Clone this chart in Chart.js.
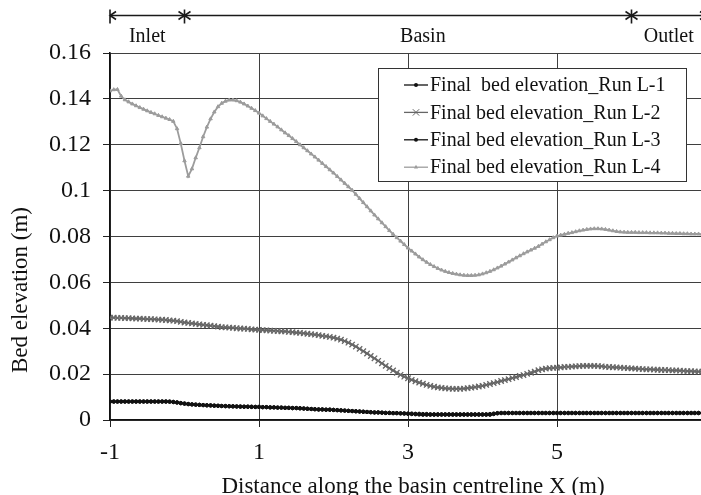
<!DOCTYPE html>
<html>
<head>
<meta charset="utf-8">
<title>Final bed elevation along the basin centreline</title>
<script src="https://cdn.jsdelivr.net/npm/chart.js@4/dist/chart.umd.min.js"></script>
<style>
  html, body { margin: 0; padding: 0; background: #fff; overflow: hidden; }
  #wrap { width: 701px; height: 495px; overflow: hidden; position: relative; }
  canvas { display: block; }
</style>
</head>
<body>
<div id="wrap"><canvas id="chart" width="723" height="495"></canvas></div>
<script>
// Stations along the basin centreline X (m)
const stations = [
  -1, -0.95, -0.9, -0.85, -0.8, -0.75, -0.7, -0.65, -0.6, -0.55, -0.5, -0.45, -0.4, -0.35, -0.3, -0.25, -0.2, -0.15, -0.1, -0.05,
  0, 0.05, 0.1, 0.15, 0.2, 0.25, 0.3, 0.35, 0.4, 0.45, 0.5, 0.55, 0.6, 0.65, 0.7, 0.75, 0.8, 0.85, 0.9, 0.95,
  1, 1.05, 1.1, 1.15, 1.2, 1.25, 1.3, 1.35, 1.4, 1.45, 1.5, 1.55, 1.6, 1.65, 1.7, 1.75, 1.8, 1.85, 1.9, 1.95,
  2, 2.05, 2.1, 2.15, 2.2, 2.25, 2.3, 2.35, 2.4, 2.45, 2.5, 2.55, 2.6, 2.65, 2.7, 2.75, 2.8, 2.85, 2.9, 2.95,
  3, 3.05, 3.1, 3.15, 3.2, 3.25, 3.3, 3.35, 3.4, 3.45, 3.5, 3.55, 3.6, 3.65, 3.7, 3.75, 3.8, 3.85, 3.9, 3.95,
  4, 4.05, 4.1, 4.15, 4.2, 4.25, 4.3, 4.35, 4.4, 4.45, 4.5, 4.55, 4.6, 4.65, 4.7, 4.75, 4.8, 4.85, 4.9, 4.95,
  5, 5.05, 5.1, 5.15, 5.2, 5.25, 5.3, 5.35, 5.4, 5.45, 5.5, 5.55, 5.6, 5.65, 5.7, 5.75, 5.8, 5.85, 5.9, 5.95,
  6, 6.05, 6.1, 6.15, 6.2, 6.25, 6.3, 6.35, 6.4, 6.45, 6.5, 6.55, 6.6, 6.65, 6.7, 6.75, 6.8, 6.85, 6.9, 6.95,
  7
];

// Final bed elevation (m), Run L-1
const runL1 = [
  0.0080, 0.0080, 0.0080, 0.0080, 0.0080, 0.0080, 0.0080, 0.0080, 0.0080, 0.0080, 0.0080, 0.0080, 0.0080, 0.0080, 0.0080, 0.0080, 0.0080, 0.0078, 0.0076, 0.0073,
  0.0071, 0.0069, 0.0068, 0.0067, 0.0066, 0.0065, 0.0064, 0.0063, 0.0062, 0.0062, 0.0061, 0.0060, 0.0060, 0.0059, 0.0059, 0.0058, 0.0058, 0.0058, 0.0057, 0.0057,
  0.0057, 0.0056, 0.0056, 0.0055, 0.0055, 0.0054, 0.0054, 0.0053, 0.0053, 0.0052, 0.0052, 0.0051, 0.0050, 0.0049, 0.0048, 0.0047, 0.0046, 0.0046, 0.0045, 0.0045,
  0.0044, 0.0043, 0.0042, 0.0041, 0.0040, 0.0039, 0.0038, 0.0037, 0.0036, 0.0035, 0.0034, 0.0033, 0.0033, 0.0032, 0.0031, 0.0031, 0.0030, 0.0030, 0.0029, 0.0028,
  0.0027, 0.0026, 0.0025, 0.0024, 0.0023, 0.0023, 0.0023, 0.0023, 0.0023, 0.0023, 0.0023, 0.0023, 0.0023, 0.0023, 0.0023, 0.0023, 0.0023, 0.0023, 0.0023, 0.0023,
  0.0023, 0.0023, 0.0023, 0.0026, 0.0029, 0.0030, 0.0030, 0.0030, 0.0030, 0.0030, 0.0030, 0.0030, 0.0030, 0.0030, 0.0030, 0.0030, 0.0030, 0.0030, 0.0030, 0.0030,
  0.0030, 0.0030, 0.0030, 0.0030, 0.0030, 0.0030, 0.0030, 0.0030, 0.0030, 0.0030, 0.0030, 0.0030, 0.0030, 0.0030, 0.0030, 0.0030, 0.0030, 0.0030, 0.0030, 0.0030,
  0.0030, 0.0030, 0.0030, 0.0030, 0.0030, 0.0030, 0.0030, 0.0030, 0.0030, 0.0030, 0.0030, 0.0030, 0.0030, 0.0030, 0.0030, 0.0030, 0.0030, 0.0030, 0.0030, 0.0030,
  0.0030
];

// Final bed elevation (m), Run L-2
const runL2 = [
  0.0446, 0.0446, 0.0445, 0.0445, 0.0444, 0.0444, 0.0443, 0.0442, 0.0442, 0.0441, 0.0440, 0.0440, 0.0439, 0.0438, 0.0437, 0.0436, 0.0434, 0.0433, 0.0431, 0.0428,
  0.0425, 0.0423, 0.0421, 0.0419, 0.0417, 0.0415, 0.0413, 0.0411, 0.0409, 0.0407, 0.0405, 0.0404, 0.0403, 0.0402, 0.0400, 0.0399, 0.0398, 0.0397, 0.0395, 0.0394,
  0.0393, 0.0392, 0.0391, 0.0390, 0.0389, 0.0388, 0.0387, 0.0386, 0.0384, 0.0383, 0.0381, 0.0380, 0.0378, 0.0376, 0.0374, 0.0372, 0.0370, 0.0367, 0.0365, 0.0362,
  0.0359, 0.0355, 0.0350, 0.0344, 0.0337, 0.0329, 0.0320, 0.0310, 0.0300, 0.0290, 0.0279, 0.0269, 0.0258, 0.0247, 0.0236, 0.0226, 0.0216, 0.0206, 0.0197, 0.0189,
  0.0182, 0.0175, 0.0169, 0.0163, 0.0158, 0.0153, 0.0149, 0.0145, 0.0142, 0.0140, 0.0138, 0.0137, 0.0136, 0.0136, 0.0136, 0.0137, 0.0139, 0.0141, 0.0143, 0.0146,
  0.0149, 0.0153, 0.0157, 0.0161, 0.0165, 0.0170, 0.0174, 0.0178, 0.0183, 0.0187, 0.0192, 0.0196, 0.0201, 0.0206, 0.0211, 0.0217, 0.0221, 0.0224, 0.0226, 0.0227,
  0.0228, 0.0229, 0.0231, 0.0232, 0.0233, 0.0234, 0.0235, 0.0236, 0.0236, 0.0236, 0.0236, 0.0235, 0.0234, 0.0232, 0.0231, 0.0230, 0.0229, 0.0228, 0.0227, 0.0226,
  0.0225, 0.0224, 0.0223, 0.0222, 0.0221, 0.0221, 0.0220, 0.0219, 0.0218, 0.0218, 0.0217, 0.0216, 0.0216, 0.0215, 0.0214, 0.0213, 0.0213, 0.0212, 0.0211, 0.0211,
  0.0210
];

// Final bed elevation (m), Run L-3
const runL3 = [
  0.0081, 0.0081, 0.0081, 0.0081, 0.0081, 0.0081, 0.0081, 0.0081, 0.0081, 0.0081, 0.0081, 0.0081, 0.0081, 0.0081, 0.0081, 0.0081, 0.0080, 0.0079, 0.0077, 0.0074,
  0.0072, 0.0070, 0.0068, 0.0067, 0.0066, 0.0065, 0.0064, 0.0064, 0.0063, 0.0062, 0.0061, 0.0061, 0.0060, 0.0060, 0.0059, 0.0059, 0.0058, 0.0058, 0.0058, 0.0057,
  0.0057, 0.0056, 0.0056, 0.0055, 0.0055, 0.0054, 0.0054, 0.0053, 0.0053, 0.0052, 0.0052, 0.0051, 0.0050, 0.0049, 0.0048, 0.0047, 0.0046, 0.0046, 0.0045, 0.0045,
  0.0044, 0.0043, 0.0042, 0.0041, 0.0040, 0.0039, 0.0038, 0.0037, 0.0036, 0.0035, 0.0034, 0.0033, 0.0033, 0.0032, 0.0031, 0.0031, 0.0030, 0.0030, 0.0029, 0.0029,
  0.0028, 0.0028, 0.0027, 0.0027, 0.0026, 0.0026, 0.0025, 0.0025, 0.0025, 0.0025, 0.0025, 0.0025, 0.0025, 0.0025, 0.0025, 0.0025, 0.0025, 0.0025, 0.0025, 0.0025,
  0.0025, 0.0025, 0.0026, 0.0028, 0.0030, 0.0031, 0.0031, 0.0031, 0.0031, 0.0031, 0.0031, 0.0031, 0.0031, 0.0031, 0.0031, 0.0031, 0.0031, 0.0031, 0.0031, 0.0031,
  0.0031, 0.0031, 0.0031, 0.0031, 0.0031, 0.0031, 0.0031, 0.0031, 0.0031, 0.0031, 0.0031, 0.0031, 0.0031, 0.0031, 0.0031, 0.0031, 0.0031, 0.0031, 0.0031, 0.0031,
  0.0031, 0.0031, 0.0031, 0.0031, 0.0031, 0.0031, 0.0031, 0.0031, 0.0031, 0.0031, 0.0031, 0.0031, 0.0031, 0.0031, 0.0031, 0.0031, 0.0031, 0.0031, 0.0031, 0.0031,
  0.0031
];

// Final bed elevation (m), Run L-4
const runL4 = [
  0.1435, 0.1440, 0.1441, 0.1412, 0.1396, 0.1387, 0.1378, 0.1370, 0.1362, 0.1355, 0.1348, 0.1341, 0.1335, 0.1328, 0.1322, 0.1316, 0.1310, 0.1302, 0.1270, 0.1205,
  0.1130, 0.1063, 0.1095, 0.1143, 0.1187, 0.1235, 0.1277, 0.1313, 0.1343, 0.1366, 0.1381, 0.1390, 0.1395, 0.1395, 0.1392, 0.1386, 0.1378, 0.1369, 0.1359, 0.1349,
  0.1338, 0.1326, 0.1314, 0.1302, 0.1290, 0.1278, 0.1265, 0.1252, 0.1240, 0.1227, 0.1214, 0.1200, 0.1187, 0.1174, 0.1160, 0.1147, 0.1133, 0.1119, 0.1105, 0.1091,
  0.1077, 0.1062, 0.1047, 0.1032, 0.1017, 0.1002, 0.0984, 0.0966, 0.0948, 0.0930, 0.0912, 0.0894, 0.0877, 0.0860, 0.0843, 0.0826, 0.0810, 0.0795, 0.0780, 0.0765,
  0.0750, 0.0737, 0.0724, 0.0711, 0.0699, 0.0688, 0.0678, 0.0669, 0.0661, 0.0654, 0.0648, 0.0643, 0.0639, 0.0636, 0.0633, 0.0631, 0.0630, 0.0630, 0.0631, 0.0633,
  0.0637, 0.0642, 0.0648, 0.0655, 0.0663, 0.0671, 0.0680, 0.0689, 0.0698, 0.0707, 0.0716, 0.0725, 0.0733, 0.0741, 0.0749, 0.0757, 0.0767, 0.0777, 0.0786, 0.0795,
  0.0802, 0.0806, 0.0810, 0.0814, 0.0817, 0.0821, 0.0825, 0.0828, 0.0831, 0.0833, 0.0834, 0.0834, 0.0833, 0.0831, 0.0828, 0.0825, 0.0822, 0.0820, 0.0819, 0.0818,
  0.0818, 0.0818, 0.0817, 0.0817, 0.0817, 0.0816, 0.0816, 0.0816, 0.0815, 0.0815, 0.0814, 0.0814, 0.0813, 0.0813, 0.0812, 0.0812, 0.0811, 0.0811, 0.0811, 0.0810,
  0.0810
];

const seriesLabels = [
  'Final  bed elevation_Run L-1',
  'Final bed elevation_Run L-2',
  'Final bed elevation_Run L-3',
  'Final bed elevation_Run L-4'
];

const xTickValues = [-1, 1, 3, 5, 7];
const xTickLabels = ['-1', '1', '3', '5', '7'];
const yTickValues = [0, 0.02, 0.04, 0.06, 0.08, 0.1, 0.12, 0.14, 0.16];
const yTickLabels = ['0', '0.02', '0.04', '0.06', '0.08', '0.1', '0.12', '0.14', '0.16'];

// Reach zones marked above the plot: boundaries and their names
const zoneBounds = [-1, 0, 6, 7];
const zoneNames = ['Inlet', 'Basin', 'Outlet'];
const zoneNameAt = [-0.5, 3.2, 6.5];

const xTitle = 'Distance along the basin centreline X (m)';
const yTitle = 'Bed elevation (m)';

const SERIF = '"Liberation Serif", "Times New Roman", serif';

function pairs(ys) {
  return stations.map((x, i) => ({ x: x, y: ys[i] }));
}

const styles = [
  { color: '#111111', point: 'circle', radius: 1.7, width: 1.4, pw: 1 },
  { color: '#666666', point: 'crossRot', radius: 3.8, width: 1.6, pw: 1.3 },
  { color: '#111111', point: 'circle', radius: 1.7, width: 1.4, pw: 1 },
  { color: '#9c9c9c', point: 'triangle', radius: 2, width: 1.8, pw: 1 }
];

const seriesValues = [runL1, runL2, runL3, runL4];

const datasets = seriesValues.map((vals, i) => ({
  label: seriesLabels[i],
  data: pairs(vals),
  borderColor: styles[i].color,
  backgroundColor: styles[i].color,
  borderWidth: styles[i].width,
  pointStyle: styles[i].point,
  pointRadius: styles[i].radius,
  pointBorderWidth: styles[i].pw,
  pointBorderColor: styles[i].color,
  pointBackgroundColor: styles[i].color,
  tension: 0,
  fill: false
}));

// Small marker painter used for the legend samples
function marker(ctx, style, x, y, r, color) {
  ctx.save();
  ctx.strokeStyle = color;
  ctx.fillStyle = color;
  ctx.lineWidth = 1;
  ctx.beginPath();
  if (style === 'circle') {
    ctx.arc(x, y, r, 0, Math.PI * 2);
    ctx.fill();
  } else if (style === 'crossRot') {
    ctx.moveTo(x - r, y - r); ctx.lineTo(x + r, y + r);
    ctx.moveTo(x - r, y + r); ctx.lineTo(x + r, y - r);
    ctx.stroke();
  } else if (style === 'triangle') {
    ctx.moveTo(x, y - r * 1.2);
    ctx.lineTo(x + r, y + r * 0.7);
    ctx.lineTo(x - r, y + r * 0.7);
    ctx.closePath();
    ctx.fill();
  }
  ctx.restore();
}

const decorations = {
  id: 'decorations',
  afterDraw(chart) {
    const ctx = chart.ctx;
    const xs = chart.scales.x;

    // Zone bar with end markers
    const barY = 15.5;
    const px = zoneBounds.map(v => xs.getPixelForValue(v));
    ctx.save();
    ctx.strokeStyle = '#1a1a1a';
    ctx.lineWidth = 1.3;
    ctx.beginPath();
    ctx.moveTo(px[0], barY);
    ctx.lineTo(px[px.length - 1], barY);
    ctx.stroke();
    ctx.lineWidth = 1.6;
    px.forEach((p, i) => {
      const first = i === 0;
      const last = i === px.length - 1;
      ctx.beginPath();
      if (!last) {
        ctx.moveTo(p, barY - 6); ctx.lineTo(p, barY + 8);
        // arrow head pointing left
        ctx.moveTo(p + 6, barY - 4); ctx.lineTo(p, barY); ctx.lineTo(p + 6, barY + 4);
      }
      if (!first) {
        // arrow head pointing right
        ctx.moveTo(p - 6, barY - 4); ctx.lineTo(p, barY); ctx.lineTo(p - 6, barY + 4);
      }
      ctx.stroke();
    });
    ctx.fillStyle = '#111';
    ctx.font = '20px ' + SERIF;
    ctx.textAlign = 'center';
    ctx.textBaseline = 'middle';
    zoneNames.forEach((name, i) => {
      ctx.fillText(name, xs.getPixelForValue(zoneNameAt[i]), 37);
    });

    // Axis titles
    ctx.font = '23px ' + SERIF;
    ctx.fillText(xTitle, 413, 487);
    ctx.save();
    ctx.translate(21, 290);
    ctx.rotate(-Math.PI / 2);
    ctx.fillText(yTitle, 0, 0);
    ctx.restore();

    // Legend box
    const box = { left: 378, top: 68, width: 308, height: 113 };
    ctx.fillStyle = '#fff';
    ctx.fillRect(box.left, box.top, box.width, box.height);
    ctx.strokeStyle = '#333';
    ctx.lineWidth = 1;
    ctx.strokeRect(box.left + 0.5, box.top + 0.5, box.width, box.height);
    ctx.font = '20px ' + SERIF;
    ctx.textAlign = 'left';
    ctx.textBaseline = 'middle';
    chart.data.datasets.forEach((ds, i) => {
      const y = box.top + 17 + i * 27.4;
      const st = styles[i];
      ctx.strokeStyle = st.color;
      ctx.lineWidth = 1.3;
      ctx.beginPath();
      ctx.moveTo(404, y);
      ctx.lineTo(428, y);
      ctx.stroke();
      marker(ctx, st.point, 416, y, st.point === 'crossRot' ? 3.2 : 2, st.color);
      ctx.fillStyle = '#111';
      ctx.fillText(ds.label, 430, y + 1);
    });
    ctx.restore();
  }
};

new Chart(document.getElementById('chart'), {
  type: 'line',
  data: { datasets: datasets },
  plugins: [decorations],
  options: {
    responsive: false,
    devicePixelRatio: 1,
    animation: false,
    layout: { padding: { top: 53, right: 0, left: 0, bottom: 0 } },
    plugins: {
      legend: { display: false },
      tooltip: { enabled: false },
      title: { display: false }
    },
    scales: {
      x: {
        type: 'linear',
        min: -1,
        max: 7,
        afterBuildTicks: axis => { axis.ticks = xTickValues.map(v => ({ value: v })); },
        afterFit: axis => { axis.height = 75; },
        ticks: {
          autoSkip: false,
          maxRotation: 0,
          padding: 11,
          color: '#111',
          font: { family: SERIF, size: 24 },
          callback: v => xTickLabels[xTickValues.indexOf(v)]
        },
        grid: { color: '#3f3f3f', lineWidth: 1, tickLength: 7, tickColor: '#222', drawTicks: true },
        border: { display: true, color: '#111', width: 1.6 }
      },
      y: {
        type: 'linear',
        min: 0,
        max: 0.16,
        afterBuildTicks: axis => { axis.ticks = yTickValues.map(v => ({ value: v })); },
        afterFit: axis => { axis.width = 110; },
        ticks: {
          autoSkip: false,
          padding: 12,
          color: '#111',
          font: { family: SERIF, size: 24 },
          callback: v => yTickLabels[yTickValues.findIndex(t => Math.abs(t - v) < 1e-9)]
        },
        grid: { color: '#3f3f3f', lineWidth: 1, tickLength: 7, tickColor: '#222', drawTicks: true },
        border: { display: true, color: '#111', width: 1.6 }
      }
    }
  }
});
</script>
</body>
</html>
